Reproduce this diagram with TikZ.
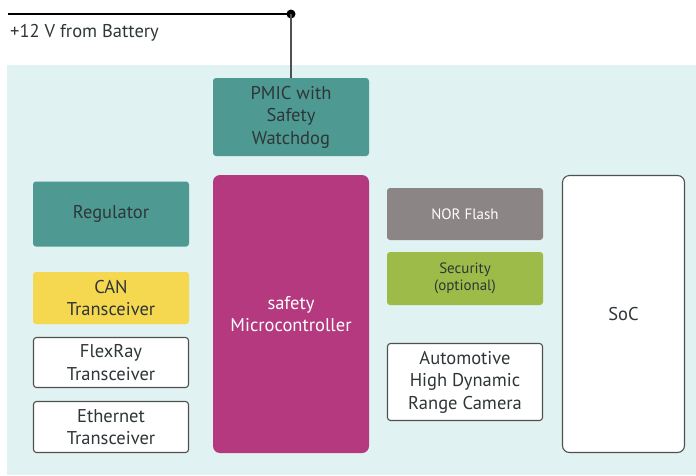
\documentclass[tikz,border=0pt]{standalone}
\usepackage{fontspec}
\setmainfont{PT Sans}
\definecolor{bgc}{HTML}{E0F2F1}
\definecolor{tealc}{HTML}{4E9A92}
\definecolor{magc}{HTML}{B5397E}
\definecolor{yelc}{HTML}{F5D84F}
\definecolor{grayc}{HTML}{8C8585}
\definecolor{grnc}{HTML}{9DBB48}
\definecolor{txtc}{HTML}{2E3638}
\definecolor{edgec}{HTML}{505050}
\begin{document}
\begin{tikzpicture}[x=1pt,y=-1pt,
  blk/.style={rounded corners=3pt, inner sep=0pt, align=center, text=txtc, font=\fontsize{18.5}{22.5}\selectfont},
  outl/.style={blk, fill=white, draw=edgec, line width=1.1pt},
  bigbox/.style={rounded corners=7pt, inner sep=0pt, align=center, font=\fontsize{18.5}{22.5}\selectfont}]
\useasboundingbox (0,0) rectangle (696,475);
\fill[bgc] (7,65) rectangle (696,475);
\node[blk, fill=tealc, minimum width=156pt, minimum height=78pt] (pmic) at (291,117) {PMIC with\\Safety\\Watchdog};
\node[blk, fill=tealc, minimum width=156pt, minimum height=65pt] (reg) at (111,214) {Regulator};
\node[blk, fill=yelc, minimum width=156pt, minimum height=52pt] (can) at (111,298) {CAN\\Transceiver};
\node[outl, minimum width=155pt, minimum height=50pt] (flex) at (111,362.5) {FlexRay\\Transceiver};
\node[outl, minimum width=155pt, minimum height=51pt] (eth) at (111,427) {Ethernet\\Transceiver};
\node[bigbox, fill=magc, text=white, minimum width=156pt, minimum height=278pt] (mcu) at (291,314) {safety\\Microcontroller};
\node[blk, fill=grayc, text=white, minimum width=156pt, minimum height=52pt, font=\fontsize{15}{18}\selectfont] (nor) at (465,214) {NOR Flash};
\node[blk, fill=grnc, minimum width=156pt, minimum height=53pt, font=\fontsize{15}{17.5}\selectfont] (sec) at (465,278.5) {Security\\(optional)};
\node[outl, minimum width=155pt, minimum height=77pt] (cam) at (465,382) {Automotive\\High Dynamic\\Range Camera};
\node[bigbox, fill=white, draw=edgec, line width=1.1pt, text=txtc, minimum width=122pt, minimum height=277pt] (soc) at (623.5,314) {SoC};
\coordinate (bat) at (8,14);
\node[circle, fill=black, inner sep=0pt, minimum size=9pt] (junc) at (291,14) {};
\draw[black, line width=1.2pt] (bat) -- (junc.center);
\draw[edgec, line width=1.8pt] (junc.center) -- (pmic.north);
\node[anchor=west, text=txtc, font=\fontsize{18.5}{20}\selectfont, inner sep=0pt] (lbl) at (10,33) {+12 V from Battery};
\end{tikzpicture}
\end{document}
